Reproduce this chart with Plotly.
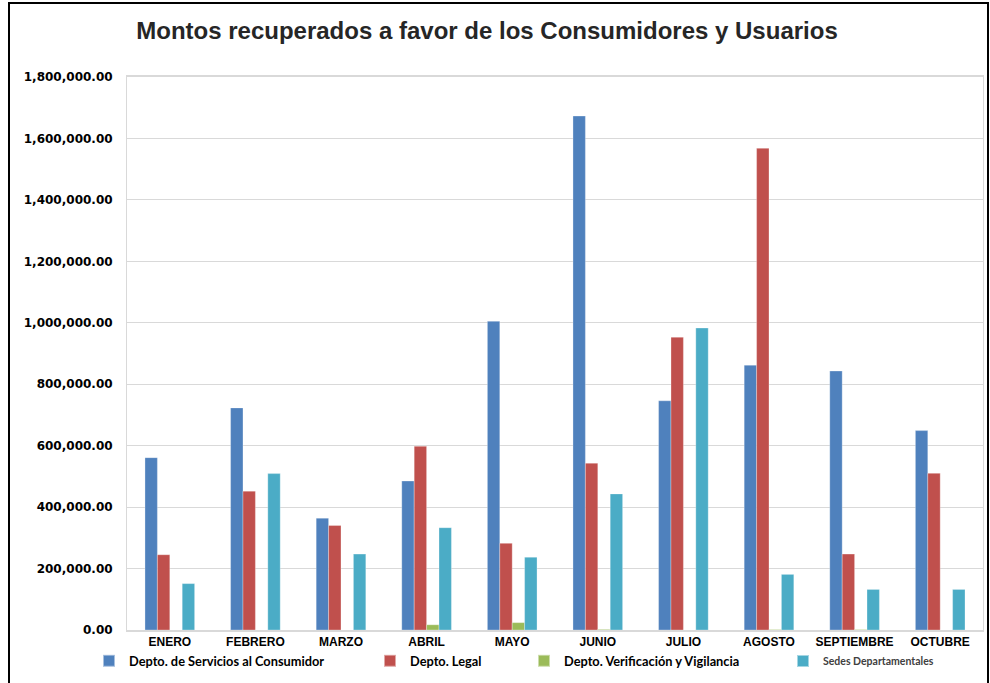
import plotly.graph_objects as go

months = ["ENERO", "FEBRERO", "MARZO", "ABRIL", "MAYO", "JUNIO",
          "JULIO", "AGOSTO", "SEPTIEMBRE", "OCTUBRE"]
servicios = [561000, 723000, 364000, 485000, 1005000, 1673000, 746000, 862000, 843000, 649000]
legal = [245000, 452000, 340000, 598000, 282000, 543000, 953000, 1568000, 247000, 510000]
verificacion = [0, 0, 0, 17000, 24000, 2000, 0, 1500, 1500, 0]
sedes = [151000, 509000, 247000, 333000, 237000, 443000, 983000, 181000, 132000, 132000]

series_names = ["Depto. de Servicios al Consumidor", "Depto. Legal",
                "Depto. Verificación y Vigilancia", "Sedes Departamentales"]
colors = ["#4F81BD", "#C0504D", "#9BBB59", "#4BACC6"]

L, R, T, B = 127, 7, 77, 53
W, H = 990, 683
pw, ph = W - L - R, H - T - B

def px_x(px):
    return (px - L) / pw

def px_y(py):
    return (H - B - py) / ph

fig = go.Figure()
legend_ids = ["legend", "legend2", "legend3", "legend4"]
for name, vals, col, lg in zip(series_names, [servicios, legal, verificacion, sedes], colors, legend_ids):
    fig.add_trace(go.Bar(
        x=months, y=vals, name=name, marker_color=col,
        marker_line=dict(color="rgba(255,255,255,0.5)", width=0.6),
        legend=lg,
    ))

legend_x = [89, 370, 524, 783]
legend_common = dict(orientation="h", yanchor="middle", xanchor="left",
                     bgcolor="rgba(0,0,0,0)", itemwidth=30,
                     tracegroupgap=0, itemsizing="constant")
fonts = [dict(family="Lato", size=12.8, color="#000000", weight="bold"),
         dict(family="Lato", size=12.8, color="#000000", weight="bold"),
         dict(family="Lato", size=12.8, color="#000000", weight="bold"),
         dict(family="Lato", size=10.5, color="#404040", weight="bold")]
legend_layouts = {}
for lg, lx, f in zip(legend_ids, legend_x, fonts):
    d = dict(legend_common)
    d.update(x=px_x(lx), y=px_y(661), font=f)
    legend_layouts[lg] = d

fig.update_layout(
    width=W, height=H,
    margin=dict(l=L, r=R, t=T, b=B),
    paper_bgcolor="white", plot_bgcolor="white",
    barmode="group", bargap=0.42, bargroupgap=0,
    title=dict(text="<b>Montos recuperados a favor de los Consumidores y Usuarios</b>",
               x=487 / W, xanchor="center",
               y=1 - 31 / H, yanchor="middle",
               font=dict(family="Liberation Sans, Arial", size=24, color="#262626")),
    showlegend=True,
    **legend_layouts,
    xaxis=dict(
        tickfont=dict(family="Liberation Sans, Arial", size=12, color="#000000"),
        tickprefix="<b>", ticksuffix="</b>",
        showgrid=False, showline=True, linecolor="#D9D9D9", linewidth=1.5,
        mirror=True, ticks="",
    ),
    yaxis=dict(
        range=[0, 1800000], dtick=200000, tickformat=",.2f",
        tickfont=dict(family="DejaVu Sans", size=12, color="#000000"),
        tickprefix="<b>", ticksuffix="</b>",
        showgrid=True, gridcolor="#D9D9D9", gridwidth=1,
        showline=True, linecolor="#D9D9D9", linewidth=1, mirror=True,
        zeroline=False, ticks="", ticklabelstandoff=11,
    ),
    shapes=[dict(type="rect", xref="paper", yref="paper",
                 x0=px_x(9), x1=px_x(988), y0=px_y(695), y1=px_y(3),
                 line=dict(color="#000000", width=2), fillcolor="rgba(0,0,0,0)",
                 layer="above")],
)

fig.write_html("out.html", config={"displayModeBar": False},
               post_script="document.body.style.margin='0px';document.body.style.overflow='hidden';")
